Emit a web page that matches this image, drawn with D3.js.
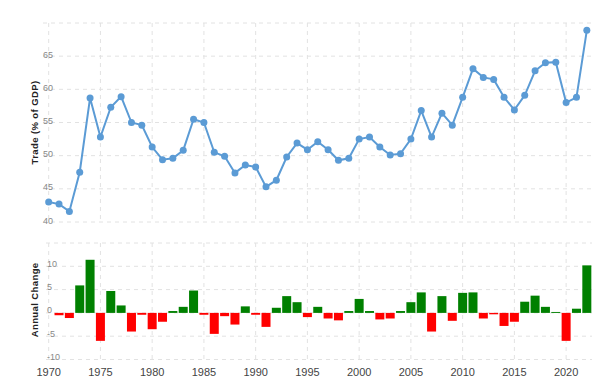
<!DOCTYPE html>
<html lang="en">
<head>
<meta charset="UTF-8">
<title>Trade (% of GDP)</title>
<script src="https://d3js.org/d3.v7.min.js"></script>
<style>
  body { margin: 0; background: #fff; font-family: "Liberation Sans", Arial, sans-serif; }
  .grid line { stroke: #e2e2e2; stroke-dasharray: 4,4; stroke-width: 1; }
  .tick-y { font-size: 9px; fill: #888; }
  .tick-x { font-size: 11px; fill: #444; }
  .title-y { font-size: 9.5px; font-weight: bold; fill: #222; letter-spacing: 0.4px; }
</style>
</head>
<body>
<div id="chart"></div>
<script>
// trade as % of GDP, 1970-2022
const years = d3.range(1970, 2023);
const trade = [
  43.0, 42.7, 41.6, 47.5, 58.7, 52.8, 57.3, 58.9, 55.0, 54.6,
  51.3, 49.4, 49.6, 50.8, 55.5, 55.0, 50.5, 49.9, 47.4, 48.6,
  48.3, 45.3, 46.3, 49.8, 51.9, 50.9, 52.1, 50.9, 49.3, 49.6,
  52.5, 52.8, 51.3, 50.1, 50.3, 52.5, 56.8, 52.8, 56.4, 54.6,
  58.8, 63.1, 61.8, 61.5, 58.8, 56.9, 59.1, 62.8, 64.0, 64.1,
  58.0, 58.8, 68.9
];
// annual change, 1971-2022
const changeYears = d3.range(1971, 2023);
const change = [
  -0.5, -1.1, 5.9, 11.4, -6.0, 4.7, 1.6, -4.0, -0.4,
  -3.5, -1.9, 0.4, 1.3, 4.8, -0.4, -4.5, -0.7, -2.5, 1.4,
  -0.4, -3.0, 1.1, 3.6, 2.3, -0.9, 1.3, -1.2, -1.6, 0.4,
  3.0, 0.4, -1.4, -1.2, 0.4, 2.3, 4.4, -4.0, 3.6, -1.7,
  4.3, 4.4, -1.2, -0.3, -2.8, -1.9, 2.4, 3.7, 1.3, 0.2,
  -6.0, 0.9, 10.2
];
const topTicks = [40, 45, 50, 55, 60, 65];
const bottomTicks = [-10, -5, 0, 5, 10];
const xTicks = [1970, 1975, 1980, 1985, 1990, 1995, 2000, 2005, 2010, 2015, 2020];

const width = 602, height = 390;
const svg = d3.select("#chart").append("svg")
  .attr("width", width).attr("height", height);

const x = d3.scaleBand().domain(years).range([43.5, 592])
  .paddingInner(0.13).paddingOuter(0.065);
const cx = d => x(d) + x.bandwidth() / 2;

// ========== top panel ==========
const yTop = d3.scaleLinear().domain([40, 70]).range([222, 23]);

const g1 = svg.append("g").attr("class", "grid");
g1.selectAll("line.h").data(topTicks.concat([70])).join("line")
  .attr("x1", 43).attr("x2", 592)
  .attr("y1", d => yTop(d)).attr("y2", d => yTop(d));
g1.selectAll("line.v").data(xTicks).join("line")
  .attr("x1", d => cx(d)).attr("x2", d => cx(d))
  .attr("y1", yTop(70)).attr("y2", yTop(40));

svg.append("g").selectAll("text").data(topTicks).join("text")
  .attr("class", "tick-y")
  .attr("x", 43).attr("y", d => yTop(d) + 1.5)
  .text(d => d);

svg.append("text").attr("class", "title-y")
  .attr("transform", `translate(38,${yTop(55)}) rotate(-90)`)
  .attr("text-anchor", "middle")
  .text("Trade (% of GDP)");

const line = d3.line().x((d, i) => cx(years[i])).y(d => yTop(d));
svg.append("path").datum(trade)
  .attr("fill", "none").attr("stroke", "#5b9bd5").attr("stroke-width", 2)
  .attr("d", line);
svg.append("g").selectAll("circle").data(trade).join("circle")
  .attr("cx", (d, i) => cx(years[i])).attr("cy", d => yTop(d))
  .attr("r", 3.5).attr("fill", "#5b9bd5");

// ========== bottom panel ==========
const yBot = d3.scaleLinear().domain([-10, 15]).range([359.5, 243]);

const g2 = svg.append("g").attr("class", "grid");
g2.selectAll("line.h").data(bottomTicks.concat([15])).join("line")
  .attr("x1", 46).attr("x2", 592)
  .attr("y1", d => yBot(d)).attr("y2", d => yBot(d));
g2.selectAll("line.v").data(xTicks).join("line")
  .attr("x1", d => cx(d)).attr("x2", d => cx(d))
  .attr("y1", yBot(15)).attr("y2", yBot(-10));

svg.append("g").selectAll("text").data(bottomTicks).join("text")
  .attr("class", "tick-y")
  .attr("x", 47).attr("y", d => yBot(d) + 0.5)
  .text(d => d);

svg.append("text").attr("class", "title-y")
  .attr("transform", `translate(38,${yBot(0) - 13}) rotate(-90)`)
  .attr("text-anchor", "middle")
  .text("Annual Change");

svg.append("g").selectAll("rect").data(change).join("rect")
  .attr("x", (d, i) => x(changeYears[i]))
  .attr("width", x.bandwidth())
  .attr("y", d => yBot(Math.max(0, d)))
  .attr("height", d => Math.abs(yBot(d) - yBot(0)))
  .attr("fill", d => d >= 0 ? "#008000" : "#ff0000");

svg.append("g").selectAll("text").data(xTicks).join("text")
  .attr("class", "tick-x")
  .attr("x", d => cx(d)).attr("y", 376)
  .attr("text-anchor", "middle")
  .text(d => d);
</script>
</body>
</html>
